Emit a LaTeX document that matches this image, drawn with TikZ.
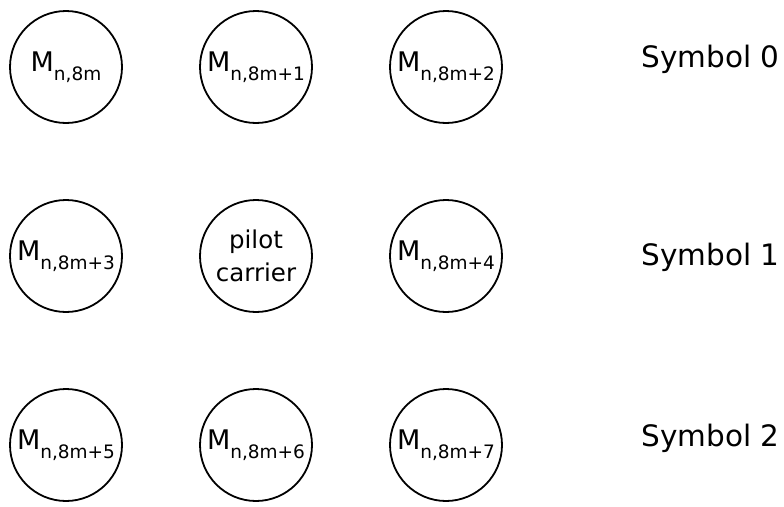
\documentclass[tikz,border=0pt]{standalone}
\usepackage{fontspec}
\setmainfont{DejaVu Sans}
\newcommand{\Msub}[1]{M\raisebox{-9pt}{\fontsize{18.5}{20}\selectfont #1}}
\begin{document}
\begin{tikzpicture}[x=1pt,y=-1pt,
  cell/.style={circle,draw,line width=1.8pt,minimum size=112pt,inner sep=0pt,
    font=\fontsize{27}{30}\selectfont,align=center},
  pilotcell/.style={cell,font=\fontsize{24.5}{33}\selectfont},
  sym/.style={anchor=base west,font=\fontsize{29.5}{34}\selectfont}]
\useasboundingbox (0,0) rectangle (784,506);
\node[cell] (a0) at (66,67) {\Msub{n,8m}};
\node[cell] (a1) at (256,67) {\Msub{n,8m+1}};
\node[cell] (a2) at (446,67) {\Msub{n,8m+2}};
\node[cell] (b0) at (66,256) {\Msub{n,8m+3}};
\node[pilotcell] (b1) at (256,256) {pilot\\carrier};
\node[cell] (b2) at (446,256) {\Msub{n,8m+4}};
\node[cell] (c0) at (66,445) {\Msub{n,8m+5}};
\node[cell] (c1) at (256,445) {\Msub{n,8m+6}};
\node[cell] (c2) at (446,445) {\Msub{n,8m+7}};
\node[sym] (s0) at (638,67) {Symbol 0};
\node[sym] (s1) at (638,265) {Symbol 1};
\node[sym] (s2) at (638,446) {Symbol 2};
\end{tikzpicture}
\end{document}
